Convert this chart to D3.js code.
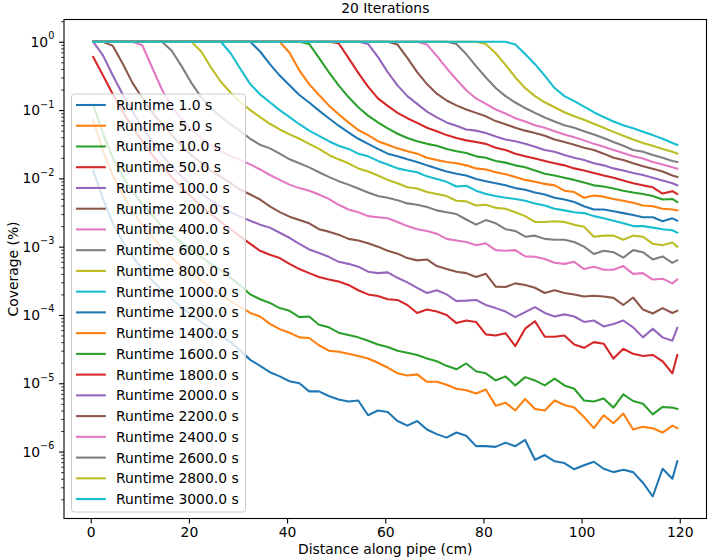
<!DOCTYPE html>
<html><head><meta charset="utf-8">
<script src="https://cdn.jsdelivr.net/npm/d3@7/dist/d3.min.js"></script>
<style>
body{margin:0;background:#fff}
svg{display:block;font-family:"DejaVu Sans",sans-serif}
</style>
</head><body>
<svg id="chart" width="708" height="559"></svg>
<script>
// ---------------- data ----------------
const distance = [0.5,2.5,4.5,6.5,8.5,10.5,12.5,14.5,16.5,18.5,20.5,22.5,24.5,26.5,28.5,30.5,32.5,34.5,36.5,38.5,40.5,42.5,44.5,46.5,48.5,50.5,52.5,54.5,56.5,58.5,60.5,62.5,64.5,66.5,68.5,70.5,72.5,74.5,76.5,78.5,80.5,82.5,84.5,86.5,88.5,90.5,92.5,94.5,96.5,98.5,100.5,102.5,104.5,106.5,108.5,110.5,112.5,114.5,116.5,118.5,119.5];

const runtimes = [1,5,10,50,100,200,400,600,800,1000,1200,1400,1600,1800,2000,2200,2400,2600,2800,3000];

const cov1 = [1.3e-2,5.0e-3,2.2e-3,1.2e-3,7.2e-4,4.7e-4,3.2e-4,2.3e-4,1.7e-4,1.3e-4,1.0e-4,7.9e-5,6.3e-5,5.0e-5,4.0e-5,3.0e-5,2.2e-5,1.8e-5,1.45e-5,1.26e-5,1.07e-5,1.0e-5,7.6e-6,7.6e-6,6.5e-6,5.8e-6,5.4e-6,5.6e-6,3.4e-6,4.0e-6,3.8e-6,2.8e-6,2.4e-6,2.8e-6,2.1e-6,1.8e-6,1.6e-6,1.9e-6,1.7e-6,1.2e-6,1.2e-6,1.17e-6,1.35e-6,1.2e-6,1.48e-6,7.6e-7,8.9e-7,7.2e-7,6.8e-7,5.5e-7,6.3e-7,7.1e-7,5.6e-7,5.0e-7,5.4e-7,5.0e-7,3.5e-7,2.2e-7,5.6e-7,4.0e-7,7.2e-7];
const cov5 = [7.1e-2,2.5e-2,1.1e-2,5.8e-3,3.3e-3,2.1e-3,1.4e-3,9.5e-4,6.9e-4,5.1e-4,4.0e-4,3.2e-4,2.5e-4,2.0e-4,1.6e-4,1.3e-4,1.07e-4,9.5e-5,7.4e-5,6.2e-5,5.5e-5,4.7e-5,4.6e-5,3.6e-5,3.0e-5,2.9e-5,2.7e-5,2.5e-5,2.3e-5,2.0e-5,1.7e-5,1.4e-5,1.3e-5,1.35e-5,1.05e-5,1.05e-5,9.5e-6,8.3e-6,7.9e-6,7.1e-6,8.1e-6,4.7e-6,5.2e-6,4.0e-6,5.9e-6,4.2e-6,4.0e-6,5.6e-6,4.8e-6,4.4e-6,3.2e-6,2.2e-6,3.4e-6,2.6e-6,3.6e-6,2.1e-6,2.3e-6,2.2e-6,1.9e-6,2.4e-6,2.2e-6];
const cov10 = [0.12,4.5e-2,2.0e-2,1.07e-2,6.5e-3,4.2e-3,2.9e-3,2.0e-3,1.5e-3,1.15e-3,8.9e-4,7.1e-4,5.6e-4,4.5e-4,3.5e-4,2.7e-4,2.0e-4,1.7e-4,1.5e-4,1.26e-4,1.15e-4,9.3e-5,9.5e-5,7.2e-5,6.6e-5,5.5e-5,5.1e-5,4.7e-5,4.2e-5,3.7e-5,3.4e-5,3.0e-5,2.8e-5,2.6e-5,2.3e-5,2.1e-5,1.8e-5,1.6e-5,1.95e-5,1.5e-5,1.4e-5,1.1e-5,1.26e-5,9.3e-6,1.23e-5,1.1e-5,9.3e-6,1.17e-5,9.3e-6,8.3e-6,5.6e-6,5.4e-6,6.0e-6,4.4e-6,6.9e-6,5.5e-6,5.0e-6,3.5e-6,4.5e-6,4.4e-6,4.2e-6];
const cov50 = [0.60,0.32,0.17,9.5e-2,5.6e-2,3.5e-2,2.2e-2,1.5e-2,1.05e-2,7.4e-3,5.4e-3,4.0e-3,3.0e-3,2.3e-3,1.8e-3,1.4e-3,1.1e-3,8.7e-4,7.6e-4,6.8e-4,5.6e-4,4.7e-4,4.1e-4,3.6e-4,3.3e-4,3.1e-4,2.75e-4,2.3e-4,2.0e-4,1.9e-4,1.7e-4,1.66e-4,1.4e-4,1.07e-4,1.2e-4,1.12e-4,1.0e-4,7.6e-5,8.3e-5,7.9e-5,5.2e-5,5.0e-5,5.4e-5,3.5e-5,6.3e-5,8.1e-5,4.8e-5,4.8e-5,5.0e-5,3.7e-5,3.3e-5,4.0e-5,3.8e-5,2.3e-5,3.2e-5,2.7e-5,2.5e-5,2.6e-5,2.1e-5,1.4e-5,2.6e-5];
const cov100 = [1,0.63,0.32,0.17,9.5e-2,5.6e-2,3.5e-2,2.2e-2,1.5e-2,1.07e-2,7.9e-3,6.0e-3,4.8e-3,3.9e-3,3.2e-3,2.75e-3,2.4e-3,2.1e-3,1.9e-3,1.6e-3,1.35e-3,1.1e-3,9.1e-4,8.1e-4,7.1e-4,6.0e-4,5.6e-4,5.1e-4,4.3e-4,4.1e-4,4.2e-4,3.5e-4,3.0e-4,2.5e-4,2.1e-4,2.3e-4,2.0e-4,1.6e-4,1.62e-4,1.66e-4,1.4e-4,1.26e-4,1.12e-4,9.3e-5,1.1e-4,1.3e-4,1.07e-4,9.5e-5,1.02e-4,9.5e-5,7.9e-5,8.3e-5,6.8e-5,7.4e-5,8.3e-5,6.6e-5,4.7e-5,6.3e-5,4.7e-5,4.2e-5,6.5e-5];
const cov200 = [1,1,0.87,0.48,0.25,0.15,9.3e-2,6.2e-2,4.3e-2,3.0e-2,2.2e-2,1.7e-2,1.3e-2,1.05e-2,8.5e-3,6.8e-3,5.8e-3,4.9e-3,3.9e-3,3.2e-3,2.75e-3,2.45e-3,2.2e-3,1.8e-3,1.66e-3,1.5e-3,1.3e-3,1.23e-3,1.12e-3,1.0e-3,8.7e-4,7.9e-4,6.8e-4,6.3e-4,6.5e-4,5.2e-4,4.7e-4,4.3e-4,4.1e-4,3.6e-4,4.0e-4,2.6e-4,2.57e-4,2.9e-4,2.75e-4,2.5e-4,2.1e-4,2.3e-4,2.1e-4,2.0e-4,1.86e-4,1.91e-4,1.86e-4,1.78e-4,1.4e-4,1.8e-4,1.2e-4,1.05e-4,1.26e-4,1.07e-4,1.15e-4];
const cov400 = [1,1,1,1,1,0.89,0.42,0.20,0.11,7.4e-2,5.2e-2,3.9e-2,3.1e-2,2.5e-2,2.1e-2,1.86e-2,1.6e-2,1.35e-2,1.12e-2,9.5e-3,8.1e-3,7.2e-3,6.6e-3,5.8e-3,5.0e-3,4.1e-3,3.5e-3,3.2e-3,2.8e-3,2.7e-3,2.6e-3,2.3e-3,2.0e-3,1.8e-3,1.7e-3,1.55e-3,1.3e-3,1.23e-3,1.17e-3,1.05e-3,1.12e-3,8.9e-4,8.7e-4,8.9e-4,7.2e-4,7.1e-4,6.6e-4,5.8e-4,5.6e-4,6.0e-4,4.7e-4,5.1e-4,4.6e-4,4.6e-4,5.2e-4,4.0e-4,4.1e-4,3.3e-4,3.4e-4,2.9e-4,3.3e-4];
const cov600 = [1,1,1,1,1,1,1,1,0.74,0.44,0.25,0.155,0.107,7.9e-2,6.2e-2,4.9e-2,3.8e-2,3.1e-2,2.75e-2,2.3e-2,1.9e-2,1.66e-2,1.45e-2,1.23e-2,1.05e-2,9.1e-3,8.1e-3,7.1e-3,6.2e-3,5.5e-3,5.2e-3,4.8e-3,4.3e-3,4.1e-3,3.8e-3,3.4e-3,3.2e-3,3.0e-3,2.5e-3,2.1e-3,2.45e-3,2.2e-3,1.8e-3,1.7e-3,1.4e-3,1.45e-3,1.3e-3,1.26e-3,1.26e-3,1.17e-3,1.0e-3,7.8e-4,8.7e-4,8.3e-4,6.9e-4,8.9e-4,8.3e-4,6.5e-4,7.2e-4,5.8e-4,6.3e-4];
const cov800 = [1,1,1,1,1,1,1,1,1,1,1,0.72,0.42,0.26,0.18,0.13,0.10,7.9e-2,6.3e-2,5.2e-2,4.4e-2,3.8e-2,3.2e-2,2.7e-2,2.2e-2,1.9e-2,1.66e-2,1.4e-2,1.26e-2,1.1e-2,9.5e-3,8.5e-3,7.4e-3,7.1e-3,6.3e-3,5.9e-3,5.5e-3,4.7e-3,4.6e-3,4.0e-3,4.1e-3,3.7e-3,3.6e-3,3.2e-3,2.8e-3,2.3e-3,2.3e-3,2.35e-3,2.3e-3,2.1e-3,1.95e-3,1.4e-3,1.45e-3,1.45e-3,1.26e-3,1.45e-3,1.4e-3,1.1e-3,1.05e-3,1.15e-3,1.0e-3];
const cov1000 = [1,1,1,1,1,1,1,1,1,1,1,1,1,1,0.68,0.40,0.24,0.17,0.13,0.10,7.9e-2,6.2e-2,5.0e-2,4.2e-2,3.5e-2,3.0e-2,2.7e-2,2.3e-2,2.1e-2,1.8e-2,1.6e-2,1.4e-2,1.3e-2,1.23e-2,1.07e-2,9.8e-3,8.9e-3,7.6e-3,7.8e-3,6.6e-3,5.9e-3,5.5e-3,5.2e-3,5.0e-3,4.7e-3,4.3e-3,4.0e-3,3.6e-3,3.4e-3,3.2e-3,3.1e-3,2.8e-3,2.6e-3,2.4e-3,2.2e-3,2.0e-3,2.0e-3,1.9e-3,1.8e-3,1.74e-3,1.6e-3];
const cov1200 = [1,1,1,1,1,1,1,1,1,1,1,1,1,1,1,1,1,0.72,0.47,0.32,0.23,0.166,0.129,9.8e-2,7.6e-2,5.9e-2,4.7e-2,3.8e-2,3.2e-2,2.7e-2,2.3e-2,2.1e-2,1.9e-2,1.74e-2,1.55e-2,1.4e-2,1.26e-2,1.17e-2,1.1e-2,9.8e-3,9.1e-3,8.5e-3,7.9e-3,7.2e-3,6.8e-3,6.2e-3,5.8e-3,5.2e-3,4.9e-3,4.5e-3,3.9e-3,3.5e-3,3.5e-3,3.3e-3,3.1e-3,2.9e-3,2.7e-3,2.7e-3,2.35e-3,2.6e-3,2.4e-3];
const cov1400 = [1,1,1,1,1,1,1,1,1,1,1,1,1,1,1,1,1,1,1,1,0.69,0.38,0.24,0.166,0.117,8.7e-2,6.6e-2,5.1e-2,4.3e-2,3.5e-2,3.1e-2,2.75e-2,2.5e-2,2.3e-2,2.0e-2,1.86e-2,1.74e-2,1.66e-2,1.55e-2,1.4e-2,1.35e-2,1.23e-2,1.15e-2,1.05e-2,9.5e-3,8.9e-3,8.3e-3,7.9e-3,6.6e-3,6.3e-3,5.2e-3,5.6e-3,5.4e-3,5.0e-3,4.7e-3,4.4e-3,4.0e-3,3.9e-3,3.6e-3,3.5e-3,3.4e-3];
const cov1600 = [1,1,1,1,1,1,1,1,1,1,1,1,1,1,1,1,1,1,1,1,1,1,0.93,0.58,0.36,0.23,0.155,0.11,8.3e-2,6.6e-2,5.4e-2,4.5e-2,3.9e-2,3.5e-2,3.2e-2,3.0e-2,2.7e-2,2.5e-2,2.35e-2,2.1e-2,2.0e-2,1.8e-2,1.7e-2,1.55e-2,1.45e-2,1.3e-2,1.17e-2,1.1e-2,1.02e-2,9.5e-3,8.7e-3,7.9e-3,7.6e-3,7.1e-3,6.6e-3,6.2e-3,5.9e-3,5.5e-3,4.9e-3,5.0e-3,4.5e-3];
const cov1800 = [1,1,1,1,1,1,1,1,1,1,1,1,1,1,1,1,1,1,1,1,1,1,1,1,1,0.95,0.58,0.35,0.22,0.148,0.115,9.1e-2,7.6e-2,6.5e-2,5.5e-2,4.9e-2,4.3e-2,3.9e-2,3.6e-2,3.4e-2,3.2e-2,2.8e-2,2.6e-2,2.3e-2,2.1e-2,1.95e-2,1.8e-2,1.66e-2,1.55e-2,1.4e-2,1.3e-2,1.2e-2,1.1e-2,1.02e-2,9.3e-3,8.5e-3,7.9e-3,7.4e-3,6.0e-3,6.5e-3,5.9e-3];
const cov2000 = [1,1,1,1,1,1,1,1,1,1,1,1,1,1,1,1,1,1,1,1,1,1,1,1,1,1,1,1,0.93,0.60,0.36,0.23,0.16,0.123,9.5e-2,7.8e-2,6.6e-2,5.9e-2,5.2e-2,5.0e-2,4.6e-2,4.1e-2,3.7e-2,3.5e-2,3.2e-2,2.9e-2,2.6e-2,2.45e-2,2.2e-2,2.0e-2,1.86e-2,1.66e-2,1.55e-2,1.4e-2,1.3e-2,1.2e-2,1.12e-2,1.02e-2,9.3e-3,8.5e-3,7.9e-3];
const cov2200 = [1,1,1,1,1,1,1,1,1,1,1,1,1,1,1,1,1,1,1,1,1,1,1,1,1,1,1,1,1,1,1,0.91,0.58,0.36,0.24,0.174,0.138,0.117,0.102,9.1e-2,8.1e-2,6.9e-2,6.2e-2,5.5e-2,5.0e-2,4.6e-2,4.2e-2,3.7e-2,3.4e-2,3.1e-2,2.8e-2,2.6e-2,2.3e-2,2.0e-2,1.86e-2,1.66e-2,1.5e-2,1.38e-2,1.26e-2,1.1e-2,1.05e-2];
const cov2400 = [1,1,1,1,1,1,1,1,1,1,1,1,1,1,1,1,1,1,1,1,1,1,1,1,1,1,1,1,1,1,1,1,1,1,0.91,0.62,0.41,0.28,0.195,0.148,0.123,0.102,8.9e-2,7.6e-2,6.8e-2,6.0e-2,5.5e-2,4.9e-2,4.4e-2,4.0e-2,3.6e-2,3.2e-2,2.9e-2,2.6e-2,2.35e-2,2.1e-2,1.95e-2,1.74e-2,1.6e-2,1.45e-2,1.38e-2];
const cov2600 = [1,1,1,1,1,1,1,1,1,1,1,1,1,1,1,1,1,1,1,1,1,1,1,1,1,1,1,1,1,1,1,1,1,1,1,1,1,0.93,0.66,0.44,0.30,0.21,0.16,0.129,0.107,9.1e-2,7.8e-2,6.8e-2,6.0e-2,5.5e-2,4.9e-2,4.4e-2,3.9e-2,3.4e-2,3.0e-2,2.6e-2,2.45e-2,2.2e-2,2.0e-2,1.8e-2,1.74e-2];
const cov2800 = [1,1,1,1,1,1,1,1,1,1,1,1,1,1,1,1,1,1,1,1,1,1,1,1,1,1,1,1,1,1,1,1,1,1,1,1,1,1,1,1,0.93,0.68,0.46,0.30,0.21,0.16,0.13,0.11,9.3e-2,8.1e-2,7.2e-2,6.3e-2,5.5e-2,4.8e-2,4.2e-2,3.7e-2,3.3e-2,3.0e-2,2.7e-2,2.45e-2,2.3e-2];
const cov3000 = [1,1,1,1,1,1,1,1,1,1,1,1,1,1,1,1,1,1,1,1,1,1,1,1,1,1,1,1,1,1,1,1,1,1,1,1,1,1,1,1,1,1,1,0.91,0.66,0.47,0.32,0.21,0.16,0.135,0.112,9.3e-2,7.9e-2,6.8e-2,6.0e-2,5.4e-2,4.8e-2,4.3e-2,3.8e-2,3.3e-2,3.1e-2];

const seriesValues = [cov1,cov5,cov10,cov50,cov100,cov200,cov400,cov600,cov800,cov1000,cov1200,cov1400,cov1600,cov1800,cov2000,cov2200,cov2400,cov2600,cov2800,cov3000];

const xTicks = [0,20,40,60,80,100,120];
const yTickExp = [-6,-5,-4,-3,-2,-1,0];
const palette = ["#1f77b4","#ff7f0e","#2ca02c","#d62728","#9467bd","#8c564b","#e377c2","#7f7f7f","#bcbd22","#17becf"];

// ---------------- layout ----------------
const FS = 13.9;
const plot = {l:64, r:706.5, t:19.5, b:518.5};
const svg = d3.select("#chart");

const x = d3.scaleLinear().domain([-5.45, 125.45]).range([plot.l, plot.r]);
const y = d3.scaleLog().domain([Math.pow(10,-6.98), Math.pow(10,0.326)]).range([plot.b, plot.t]);

svg.append("defs").append("clipPath").attr("id","clip")
  .append("rect").attr("x",plot.l).attr("y",plot.t).attr("width",plot.r-plot.l).attr("height",plot.b-plot.t);

// lines
const line = d3.line().x((d,i)=>x(distance[i])).y(d=>y(d));
const gLines = svg.append("g").attr("clip-path","url(#clip)");
seriesValues.forEach((vals,k)=>{
  gLines.append("path").datum(vals)
    .attr("d", line)
    .attr("fill","none")
    .attr("stroke", palette[k%10])
    .attr("stroke-width",2.08)
    .attr("stroke-linejoin","round")
    .attr("stroke-linecap","square");
});

// x axis
const xAxis = d3.axisBottom(x).tickValues(xTicks).tickSize(4.9).tickPadding(4.2).tickFormat(d3.format("d"));
const gx = svg.append("g").attr("transform",`translate(0,${plot.b})`).call(xAxis);
gx.select(".domain").remove();
gx.selectAll(".tick line").attr("stroke","#000").attr("stroke-width",1.1);
gx.selectAll(".tick text").attr("font-size",FS).attr("font-family","DejaVu Sans").attr("fill","#000");

// y axis major
const yMajor = yTickExp.map(e=>Math.pow(10,e));
const yAxis = d3.axisLeft(y).tickValues(yMajor).tickSize(4.9).tickFormat("");
const gy = svg.append("g").attr("transform",`translate(${plot.l},0)`).call(yAxis);
gy.select(".domain").remove();
gy.selectAll(".tick line").attr("stroke","#000").attr("stroke-width",1.1);

// y axis minor
const yMinor = [];
for (let e=-7;e<=0;e++) for (let m=2;m<=9;m++){ const v=m*Math.pow(10,e); if(v>=y.domain()[0] && v<=y.domain()[1]) yMinor.push(v); }
const gym = svg.append("g").attr("transform",`translate(${plot.l},0)`).call(d3.axisLeft(y).tickValues(yMinor).tickSize(2.8).tickFormat(""));
gym.select(".domain").remove();
gym.selectAll(".tick line").attr("stroke","#000").attr("stroke-width",0.8);

// y tick labels (10^n)
yTickExp.forEach(e=>{
  const t = svg.append("text")
    .attr("x", plot.l-9.6)
    .attr("y", y(Math.pow(10,e))+5)
    .attr("text-anchor","end")
    .attr("font-size",FS).attr("fill","#000");
  t.append("tspan").text("10");
  t.append("tspan").attr("dy",-7.5).attr("font-size",9.7).text(e<0 ? "\u2212"+(-e) : String(e));
});

// frame
svg.append("rect").attr("x",plot.l).attr("y",plot.t).attr("width",plot.r-plot.l).attr("height",plot.b-plot.t)
  .attr("fill","none").attr("stroke","#000").attr("stroke-width",1.1);

// titles
svg.append("text").attr("x",(plot.l+plot.r)/2).attr("y",13).attr("text-anchor","middle")
  .attr("font-size",FS).attr("fill","#000").text("20 Iterations");
svg.append("text").attr("x",(plot.l+plot.r)/2).attr("y",554).attr("text-anchor","middle")
  .attr("font-size",FS).attr("fill","#000").text("Distance along pipe (cm)");
svg.append("text").attr("transform",`translate(18,${(plot.t+plot.b)/2}) rotate(-90)`).attr("text-anchor","middle")
  .attr("font-size",FS).attr("fill","#000").text("Coverage (%)");

// legend
const leg = {x:71.5, y:94, w:174, h:418, row0:105, step:20.74};
const gL = svg.append("g");
gL.append("rect").attr("x",leg.x).attr("y",leg.y).attr("width",leg.w).attr("height",leg.h)
  .attr("rx",2.8).attr("ry",2.8)
  .attr("fill","#fff").attr("fill-opacity",0.8).attr("stroke","#cccccc").attr("stroke-width",1);
runtimes.forEach((r,k)=>{
  const yy = leg.row0 + k*leg.step;
  gL.append("line").attr("x1",77).attr("x2",104.8).attr("y1",yy).attr("y2",yy)
    .attr("stroke",palette[k%10]).attr("stroke-width",2.08).attr("stroke-linecap","square");
  gL.append("text").attr("x",116).attr("y",yy+5).attr("font-size",FS).attr("fill","#000")
    .text(`Runtime ${r.toFixed(1)} s`);
});
</script>
</body></html>
